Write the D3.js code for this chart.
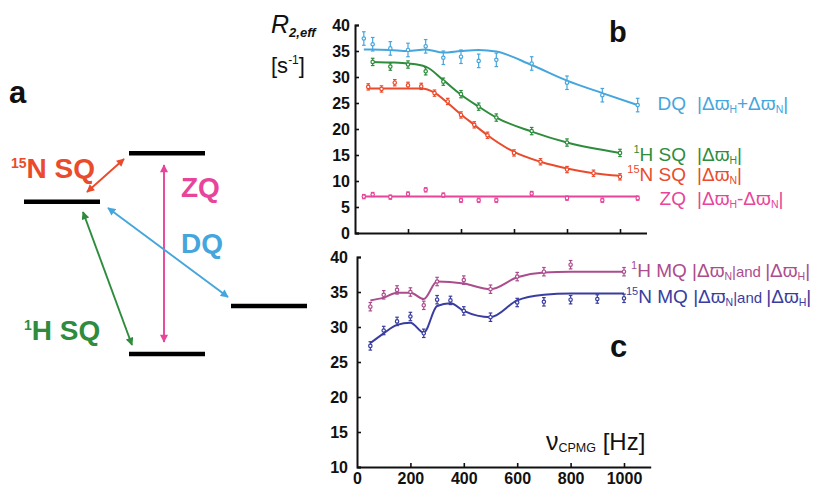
<!DOCTYPE html>
<html><head><meta charset="utf-8">
<script src="https://cdn.jsdelivr.net/npm/d3@7"></script>
<style>body{margin:0;background:#fff} svg{display:block;font-family:"Liberation Sans",Arial,sans-serif}</style>
</head><body><svg id="chart" width="820" height="488"></svg>
<script>
// ---------- data ----------
const hzDQ   = [33.3, 66.7, 133.3, 200, 266.7, 333.3, 400, 466.7, 533.3, 666.7, 800, 933.3, 1066.7];
const dqPts  = [37.4, 36.3, 35.5, 35.2, 35.9, 33.7, 33.9, 33.1, 33.3, 32.6, 28.9, 26.5, 24.6];
const dqFit  = [35.3, 35.3, 35.2, 35.0, 35.3, 34.7, 35.0, 35.2, 34.9, 32.3, 29.3, 26.9, 24.6];
const zqPts  = [7.0, 7.4, 6.9, 7.5, 8.3, 7.3, 6.3, 6.3, 6.3, 7.6, 6.7, 6.3, 6.7];
const zqFit  = [7.0, 7.0, 7.0, 7.0, 7.0, 7.0, 7.0, 7.0, 7.0, 7.0, 7.0, 7.0, 7.0];
const hzHSQ  = [66.7, 133.3, 200, 266.7, 333.3, 400, 466.7, 533.3, 666.7, 800, 1000];
const hsqPts = [32.9, 32.0, 32.4, 31.1, 29.1, 26.7, 24.3, 22.2, 19.6, 17.4, 15.4];
const hsqFit = [32.9, 32.8, 32.6, 32.0, 29.4, 26.6, 24.3, 22.2, 19.5, 17.4, 15.4];
const hzNSQ  = [50, 100, 150, 200, 250, 300, 350, 400, 450, 500, 600, 700, 800, 900, 1000];
const nsqPts = [28.1, 27.7, 28.9, 28.4, 28.2, 26.9, 25.3, 22.7, 20.8, 18.8, 15.4, 13.7, 12.2, 11.5, 10.8];
const nsqFit = [27.8, 27.8, 27.8, 27.8, 27.8, 27.0, 25.0, 22.8, 20.8, 18.8, 15.6, 13.7, 12.4, 11.5, 11.0];
const hzMQH  = [50, 100, 150, 200, 250, 300, 400, 500, 600, 700, 800, 1000];
const mqHPts = [32.9, 34.6, 35.3, 35.0, 33.1, 36.5, 36.7, 35.4, 37.2, 37.9, 38.9, 37.9];
const mqHFit = [33.8, 34.2, 34.9, 34.9, 34.0, 36.5, 36.2, 35.4, 37.1, 37.8, 37.9, 37.9];
const hzMQN  = [50, 100, 150, 200, 250, 300, 350, 400, 500, 600, 700, 800, 900, 1000];
const mqNPts = [27.3, 29.5, 30.8, 31.5, 29.1, 33.9, 33.8, 32.3, 31.4, 33.5, 33.6, 33.9, 34.0, 34.1];
const mqNFit = [27.7, 29.1, 30.3, 30.6, 29.2, 33.0, 33.4, 32.3, 31.4, 33.8, 34.6, 34.8, 34.8, 34.8];
const errs   = {dq: 1.3, hsq: 0.7, nsq: 0.6, zq: 0.4, mqh: 0.6, mqn: 0.6};
const yTicksB = [0, 5, 10, 15, 20, 25, 30, 35, 40];
const yTicksC = [10, 15, 20, 25, 30, 35, 40];
const xTicks  = [0, 200, 400, 600, 800, 1000];

const COL = {dq:"#45a6dd", hsq:"#2e8c3c", nsq:"#ea4b2c", zq:"#e8449a", mqh:"#ab4d8d", mqn:"#393d9f"};

const svg = d3.select("#chart");
svg.append("rect").attr("width",820).attr("height",488).attr("fill","#fff");

// ---------- scales ----------
const xB = d3.scaleLinear().domain([0,1100]).range([355, 646.5]);
const yB = d3.scaleLinear().domain([0,40]).range([233, 25]);
const xC = d3.scaleLinear().domain([0,1100]).range([357, 650.7]);
const yC = d3.scaleLinear().domain([10,40]).range([467, 257]);

function styleAxis(g){
  g.selectAll("path.domain").attr("stroke","#111").attr("stroke-width",2);
  g.selectAll(".tick line").attr("stroke","#111").attr("stroke-width",1.6);
  g.selectAll("text").attr("fill","#111").attr("font-size",16).attr("font-weight","bold")
   .attr("font-family","'Liberation Sans',Arial,sans-serif");
}
const fmt = d3.format("d");
// panel b axes
svg.append("g").attr("transform",`translate(0,${yB(0)})`)
  .call(d3.axisBottom(xB).tickValues(xTicks.slice(1)).tickSizeInner(-4).tickSizeOuter(0).tickFormat(""))
  .call(styleAxis);
svg.append("g").attr("transform",`translate(${xB(0)},0)`)
  .call(d3.axisLeft(yB).tickValues(yTicksB).tickSizeInner(-4).tickSizeOuter(-4).tickPadding(5).tickFormat(fmt))
  .call(styleAxis);
// panel c axes
svg.append("g").attr("transform",`translate(0,${yC(10)})`)
  .call(d3.axisBottom(xC).tickValues(xTicks).tickSizeInner(-4).tickSizeOuter(0).tickPadding(6).tickFormat(fmt))
  .call(styleAxis)
  .call(g=>g.selectAll(".tick").filter(d=>d===0).select("line").remove());
svg.append("g").attr("transform",`translate(${xC(0)},0)`)
  .call(d3.axisLeft(yC).tickValues(yTicksC).tickSizeInner(-4).tickSizeOuter(-4).tickPadding(9).tickFormat(fmt))
  .call(styleAxis);

// ---------- series ----------
function series(x, y, hz, pts, fit, err, col){
  const g = svg.append("g");
  const line = d3.line().x((d,i)=>x(hz[i])).y(d=>y(d)).curve(d3.curveMonotoneX);
  g.append("path").datum(fit).attr("d",line).attr("fill","none").attr("stroke",col).attr("stroke-width",2);
  const e = g.selectAll("g.e").data(pts).join("g");
  e.append("line").attr("x1",(d,i)=>x(hz[i])).attr("x2",(d,i)=>x(hz[i]))
    .attr("y1",d=>y(d-err)).attr("y2",d=>y(d+err)).attr("stroke",col).attr("stroke-width",1.2);
  [1,-1].forEach(s=>{
    e.append("line").attr("x1",(d,i)=>x(hz[i])-1.8).attr("x2",(d,i)=>x(hz[i])+1.8)
      .attr("y1",d=>y(d+s*err)).attr("y2",d=>y(d+s*err)).attr("stroke",col).attr("stroke-width",1.2);
  });
  e.append("circle").attr("cx",(d,i)=>x(hz[i])).attr("cy",d=>y(d)).attr("r",1.7)
    .attr("fill","#fff").attr("stroke",col).attr("stroke-width",1.2);
}
series(xB,yB,hzDQ,dqPts,dqFit,errs.dq,COL.dq);
series(xB,yB,hzHSQ,hsqPts,hsqFit,errs.hsq,COL.hsq);
series(xB,yB,hzNSQ,nsqPts,nsqFit,errs.nsq,COL.nsq);
series(xB,yB,hzDQ,zqPts,zqFit,errs.zq,COL.zq);
series(xC,yC,hzMQH,mqHPts,mqHFit,errs.mqh,COL.mqh);
series(xC,yC,hzMQN,mqNPts,mqNFit,errs.mqn,COL.mqn);

// ---------- text helpers ----------
const FF = "'Liberation Sans',Arial,sans-serif";
function rich(x, y, parts, col, anchor){
  const t = svg.append("text").attr("x",x).attr("y",y).attr("fill",col)
    .attr("font-family",FF).attr("text-anchor",anchor||"start");
  let cur = 0;
  parts.forEach(p=>{
    const off = p.dy||0;
    t.append("tspan").text(p.t).attr("font-size",p.s).attr("font-weight",p.w||"normal")
      .attr("font-style",p.i?"italic":"normal").attr("dy",off-cur);
    cur = off;
  });
  return t;
}
const W = "\u03D6", D = "\u0394";
function absW(sub,s){ return [{t:"|"+D+W,s:s},{t:sub,s:s*0.55,dy:3}]; }

// legend b
rich(686,110,[{t:"DQ",s:19}],COL.dq,"end");
rich(697,110,[...absW("H",19),{t:"+"+D+W,s:19},{t:"N",s:10.5,dy:3},{t:"|",s:19}],COL.dq);
rich(686,161,[{t:"1",s:11,dy:-8},{t:"H SQ",s:19}],COL.hsq,"end");
rich(697,161,[...absW("H",19),{t:"|",s:19}],COL.hsq);
rich(686,181,[{t:"15",s:11,dy:-8},{t:"N SQ",s:19}],COL.nsq,"end");
rich(697,181,[...absW("N",19),{t:"|",s:19}],COL.nsq);
rich(686,205,[{t:"ZQ",s:19}],COL.zq,"end");
rich(697,205,[...absW("H",19),{t:"-"+D+W,s:19},{t:"N",s:10.5,dy:3},{t:"|",s:19}],COL.zq);
// legend c
rich(631,277,[{t:"1",s:11,dy:-8},{t:"H MQ ",s:19,dy:0},...absW("N",19),{t:"|and ",s:15},{t:"|"+D+W,s:19},{t:"H",s:10.5,dy:3},{t:"|",s:19}],COL.mqh);
rich(626,303,[{t:"15",s:11,dy:-8},{t:"N MQ ",s:19,dy:0},...absW("N",19),{t:"|and ",s:15},{t:"|"+D+W,s:19},{t:"H",s:10.5,dy:3},{t:"|",s:19}],COL.mqn);

// axis titles
rich(271,33,[{t:"R",s:25,i:true},{t:"2,eff",s:13,i:true,w:"bold",dy:4}],"#111");
rich(271,73,[{t:"[s",s:22},{t:"-1",s:12,dy:-9},{t:"]",s:22}],"#111");
rich(546,450,[{t:"\u03BD",s:25},{t:"CPMG",s:12.5,dy:2},{t:" [Hz]",s:24}],"#111");

// panel letters
rich(609,42,[{t:"b",s:29,w:"bold"}],"#111");
rich(610,357,[{t:"c",s:31,w:"bold"}],"#111");
rich(9,103,[{t:"a",s:31,w:"bold"}],"#111");

// ---------- panel a: energy level diagram ----------
const levels = [[24,100,201.7],[129,205,153.3],[231,307,306],[129,205,354]];
const arrows = [
  [87,192,124,159,COL.nsq],
  [164,165,164,342,COL.zq],
  [108,208,228,297,COL.dq],
  [83,212,132,345,COL.hsq]
];
const defs = svg.append("defs");
arrows.forEach((a,i)=>{
  defs.append("marker").attr("id","ah"+i).attr("viewBox","0 0 10 10").attr("refX",9).attr("refY",5)
    .attr("markerWidth",9).attr("markerHeight",8).attr("markerUnits","userSpaceOnUse")
    .attr("orient","auto-start-reverse")
    .append("path").attr("d","M0,0L10,5L0,10z").attr("fill",a[4]);
});
svg.append("g").selectAll("line").data(levels).join("line")
  .attr("x1",d=>d[0]).attr("x2",d=>d[1]).attr("y1",d=>d[2]).attr("y2",d=>d[2])
  .attr("stroke","#000").attr("stroke-width",4.5);
svg.append("g").selectAll("line").data(arrows).join("line")
  .attr("x1",d=>d[0]).attr("y1",d=>d[1]).attr("x2",d=>d[2]).attr("y2",d=>d[3])
  .attr("stroke",d=>d[4]).attr("stroke-width",1.9)
  .attr("marker-start",(d,i)=>`url(#ah${i})`).attr("marker-end",(d,i)=>`url(#ah${i})`);

rich(11,178,[{t:"15",s:14,w:"bold",dy:-10},{t:"N SQ",s:28,w:"bold"}],COL.nsq);
rich(181,197,[{t:"ZQ",s:28,w:"bold"}],COL.zq);
rich(181,253,[{t:"DQ",s:28,w:"bold"}],COL.dq);
rich(24,340,[{t:"1",s:14,w:"bold",dy:-10},{t:"H SQ",s:28,w:"bold"}],COL.hsq);
</script></body></html>
